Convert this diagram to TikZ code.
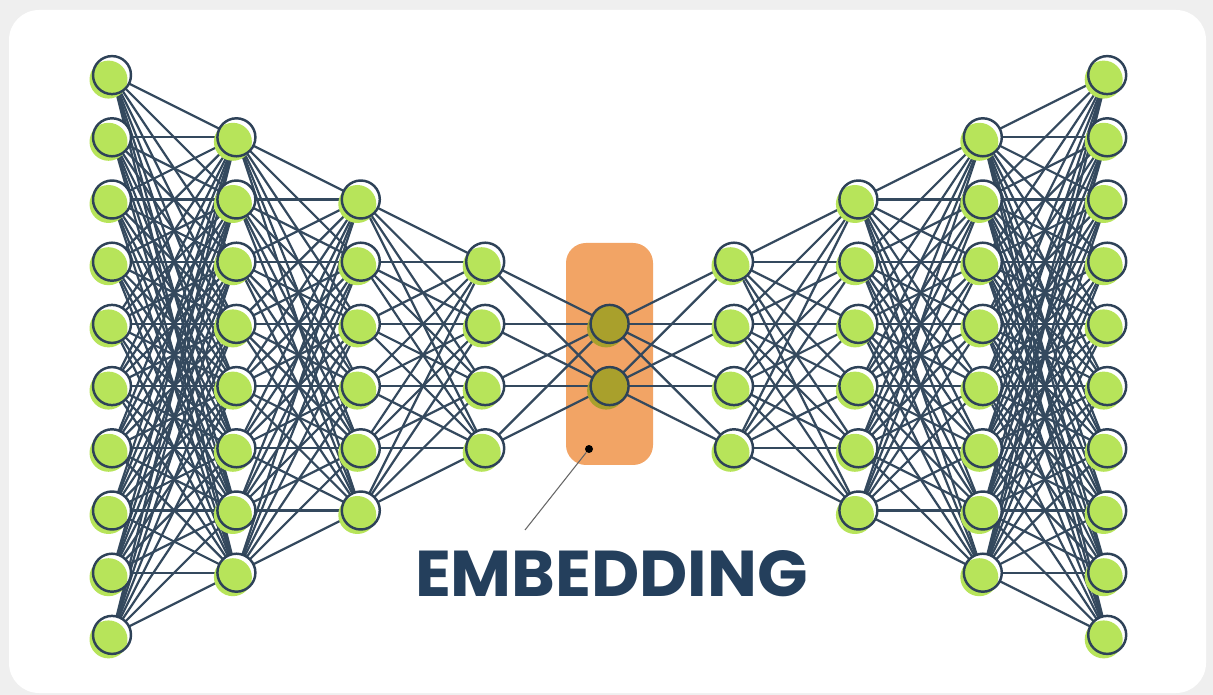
\documentclass[tikz,border=0pt]{standalone}
\usepackage{fontspec}
\usepackage{graphicx}
\usepackage{xcolor}
\usepackage{tikz}
\usetikzlibrary{positioning}

\newfontfamily\labelfont{Poppins}

\definecolor{paper}{HTML}{EFEFEF}
\definecolor{netblue}{HTML}{2E4258}
\definecolor{linkblue}{HTML}{34495E}
\definecolor{neurongreen}{HTML}{B7E45A}
\definecolor{embedorange}{HTML}{F2A465}
\definecolor{embedolive}{HTML}{A9A02C}
\definecolor{labelblue}{HTML}{243F5C}

\pgfdeclarelayer{back}
\pgfdeclarelayer{links}
\pgfsetlayers{back,links,main}

\begin{document}
\begin{tikzpicture}[
        x=0.02cm, y=-0.02cm,
        neuron/.style={circle, draw=netblue, line width=1.4pt, fill=white,
            minimum size=0.76cm, inner sep=0pt,
            preaction={fill=#1, transform canvas={shift={(-0.07cm,-0.09cm)}}},
            path picture={\fill[#1] ([shift={(-0.07cm,-0.09cm)}]path picture bounding box.center) circle (0.38cm);}},
        link/.style={draw=linkblue, line width=1.25pt},
        pointer/.style={draw=gray!80!black, line width=0.6pt}
    ]

    \useasboundingbox (0,0) rectangle (1213,695);

    \begin{pgfonlayer}{back}
        \fill[paper] (0,0) rectangle (1213,695);
        \fill[white, rounded corners=0.6cm] (9,10) rectangle (1206,693);
        % bottleneck highlight
        \fill[embedorange, rounded corners=0.4cm] (566,243) rectangle (653,465);
    \end{pgfonlayer}

    % layers of the autoencoder
    \foreach \n/\c/\f [count=\l] in {10/neurongreen/white, 8/neurongreen/white,
            6/neurongreen/white, 4/neurongreen/white, 2/embedolive/embedolive,
            4/neurongreen/white, 6/neurongreen/white, 8/neurongreen/white,
            10/neurongreen/white} {
        \foreach \k in {1,...,\n} {
            \node[neuron=\c, fill=\f] (n\l-\k)
                at ({112+(\l-1)*124.4}, {355+(\k-(\n+1)/2)*62.2}) {};
        }
    }

    % fully connected links
    \begin{pgfonlayer}{links}
        \foreach \a/\na/\nb [evaluate=\a as \b using int(\a+1)] in
                {1/10/8, 2/8/6, 3/6/4, 4/4/2, 5/2/4, 6/4/6, 7/6/8, 8/8/10} {
            \foreach \i in {1,...,\na} {
                \foreach \j in {1,...,\nb} {
                    \draw[link] (n\a-\i.center) -- (n\b-\j.center);
                }
            }
        }
    \end{pgfonlayer}

    \node[circle, fill=black, inner sep=0pt, minimum size=0.16cm] (dot) at (589,449) {};
    \coordinate (tail) at (525,530);
    \draw[pointer] (dot) -- (tail);

    \node[text=labelblue, inner sep=0pt] (label) at (611.5,573.5)
        {\resizebox{7.86cm}{0.92cm}{\labelfont\bfseries EMBEDDING}};

\end{tikzpicture}
\end{document}
